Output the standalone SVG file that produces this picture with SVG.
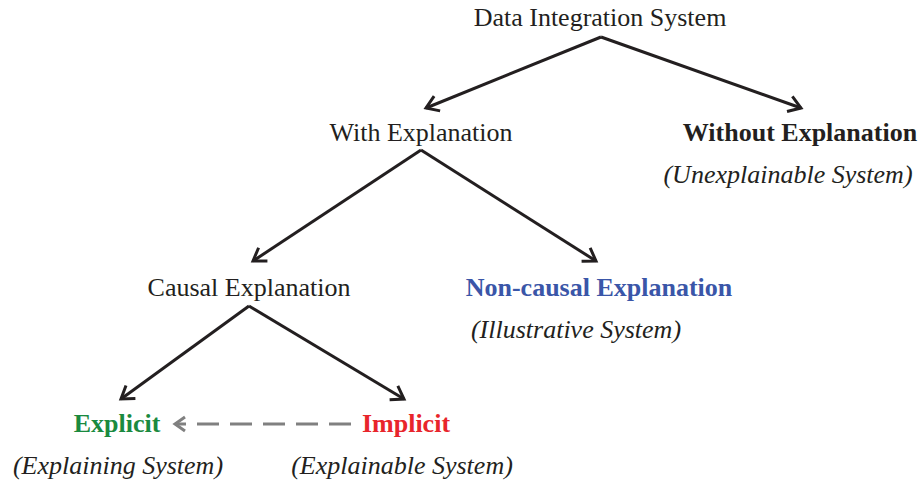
<svg xmlns="http://www.w3.org/2000/svg" width="922" height="482" viewBox="0 0 922 482">
<style>
text { font-family: "Liberation Serif", "Times New Roman", serif; font-size: 26px; fill: #231f20; text-anchor: middle; }
.b { font-weight: bold; }
.i { font-style: italic; }
.edge { stroke: #231f20; stroke-width: 3; fill: none; }
.dash { stroke: #808080; stroke-width: 3; fill: none; stroke-dasharray: 22 11; }
</style>
<defs>
<marker id="ah" markerUnits="userSpaceOnUse" markerWidth="30" markerHeight="30" viewBox="-20 -15 30 30" refX="0" refY="0" orient="auto">
<path d="M -12 -8 L 0 0 L -12 8" fill="none" stroke="#231f20" stroke-width="3" stroke-linejoin="miter"/>
</marker>
<marker id="ahg" markerUnits="userSpaceOnUse" markerWidth="30" markerHeight="30" viewBox="-20 -15 30 30" refX="0" refY="0" orient="auto">
<path d="M -10 -7 L 0 0 L -10 7" fill="none" stroke="#808080" stroke-width="3"/>
</marker>
</defs>
<g id="connectors">
<line class="edge" x1="601" y1="37" x2="426" y2="108" marker-end="url(#ah)"/>
<line class="edge" x1="601" y1="37" x2="801" y2="108" marker-end="url(#ah)"/>
<line class="edge" x1="421" y1="150" x2="253" y2="261" marker-end="url(#ah)"/>
<line class="edge" x1="421" y1="150" x2="596" y2="261" marker-end="url(#ah)"/>
<line class="edge" x1="249" y1="306" x2="121" y2="399" marker-end="url(#ah)"/>
<line class="edge" x1="249" y1="306" x2="404" y2="399" marker-end="url(#ah)"/>
<line class="dash" x1="351" y1="424" x2="175" y2="424" marker-end="url(#ahg)"/>
</g>
<g id="root"><text x="600" y="26">Data Integration System</text></g>
<g id="with"><text x="421" y="141">With Explanation</text></g>
<g id="without"><text class="b" x="800" y="141">Without Explanation</text><text class="i" x="788" y="183">(Unexplainable System)</text></g>
<g id="causal"><text x="249" y="296">Causal Explanation</text></g>
<g id="noncausal"><text class="b" x="599" y="296" style="fill:#3a56a8">Non-causal Explanation</text><text class="i" x="576" y="338">(Illustrative System)</text></g>
<g id="explicit"><text class="b" x="117" y="432" style="fill:#1a8a3f">Explicit</text><text class="i" x="118" y="474">(Explaining System)</text></g>
<g id="implicit"><text class="b" x="406" y="432" style="fill:#e8252b">Implicit</text><text class="i" x="402" y="474">(Explainable System)</text></g>
</svg>
